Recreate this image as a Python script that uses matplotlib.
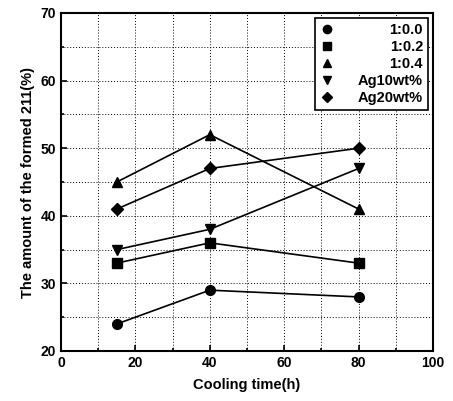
import matplotlib
matplotlib.use("Agg")
import matplotlib.pyplot as plt
from matplotlib.ticker import MultipleLocator

plt.rcParams['font.family'] = ['Liberation Sans', 'DejaVu Sans']
plt.rcParams['font.weight'] = 'bold'

cooling_time = [15, 40, 80]
s_100 = [24, 29, 28]
s_102 = [33, 36, 33]
s_104 = [45, 52, 41]
ag10 = [35, 38, 47]
ag20 = [41, 47, 50]

series = [
    ("1:0.0", s_100, 'o'),
    ("1:0.2", s_102, 's'),
    ("1:0.4", s_104, '^'),
    ("Ag10wt%", ag10, 'v'),
    ("Ag20wt%", ag20, 'D'),
]

fig = plt.figure(figsize=(4.53, 4.01), dpi=100)
ax = fig.add_axes([61/453, 1 - 351/401, (433-61)/453, (351-13)/401])

for label, ys, m in series:
    ax.plot(cooling_time, ys, color='black', lw=1.2, marker=m,
            ms=7 if m != 'D' else 6, label=label)

ax.set_xlim(0, 100)
ax.set_ylim(20, 70)
ax.xaxis.set_major_locator(MultipleLocator(20))
ax.xaxis.set_minor_locator(MultipleLocator(10))
ax.yaxis.set_major_locator(MultipleLocator(10))
ax.yaxis.set_minor_locator(MultipleLocator(5))
ax.grid(True, which='both', color='black', linestyle=(0, (1, 2)), lw=0.7)
ax.tick_params(which='both', direction='in', length=4, width=1.2, labelsize=10)
ax.tick_params(which='minor', length=2)
for sp in ax.spines.values():
    sp.set_linewidth(1.5)
for t in ax.get_xticklabels() + ax.get_yticklabels():
    t.set_fontweight('bold')

ax.set_xlabel("Cooling time(h)", fontsize=10.5, fontweight='bold', labelpad=6)
ax.set_ylabel("The amount of the formed 211(%)", fontsize=10.5, fontweight='bold', labelpad=4)

leg = ax.legend(loc='upper right', frameon=True, fancybox=False, edgecolor='black',
                fontsize=10.5, handlelength=1.0, handletextpad=1.6, borderpad=0.35,
                labelspacing=0.2, bbox_to_anchor=(0.987, 0.985), borderaxespad=0,
                markerscale=0.85)
leg.get_frame().set_linewidth(1.2)
leg.get_frame().set_alpha(1)
for line in leg.get_lines():
    line.set_linestyle('none')

renderer = fig.canvas.get_renderer()
widths = [t.get_window_extent(renderer).width for t in leg.get_texts()]
shift = max(widths)
for t, w in zip(leg.get_texts(), widths):
    t.set_position((shift - w, 0))

fig.savefig("out.png", dpi=100)
